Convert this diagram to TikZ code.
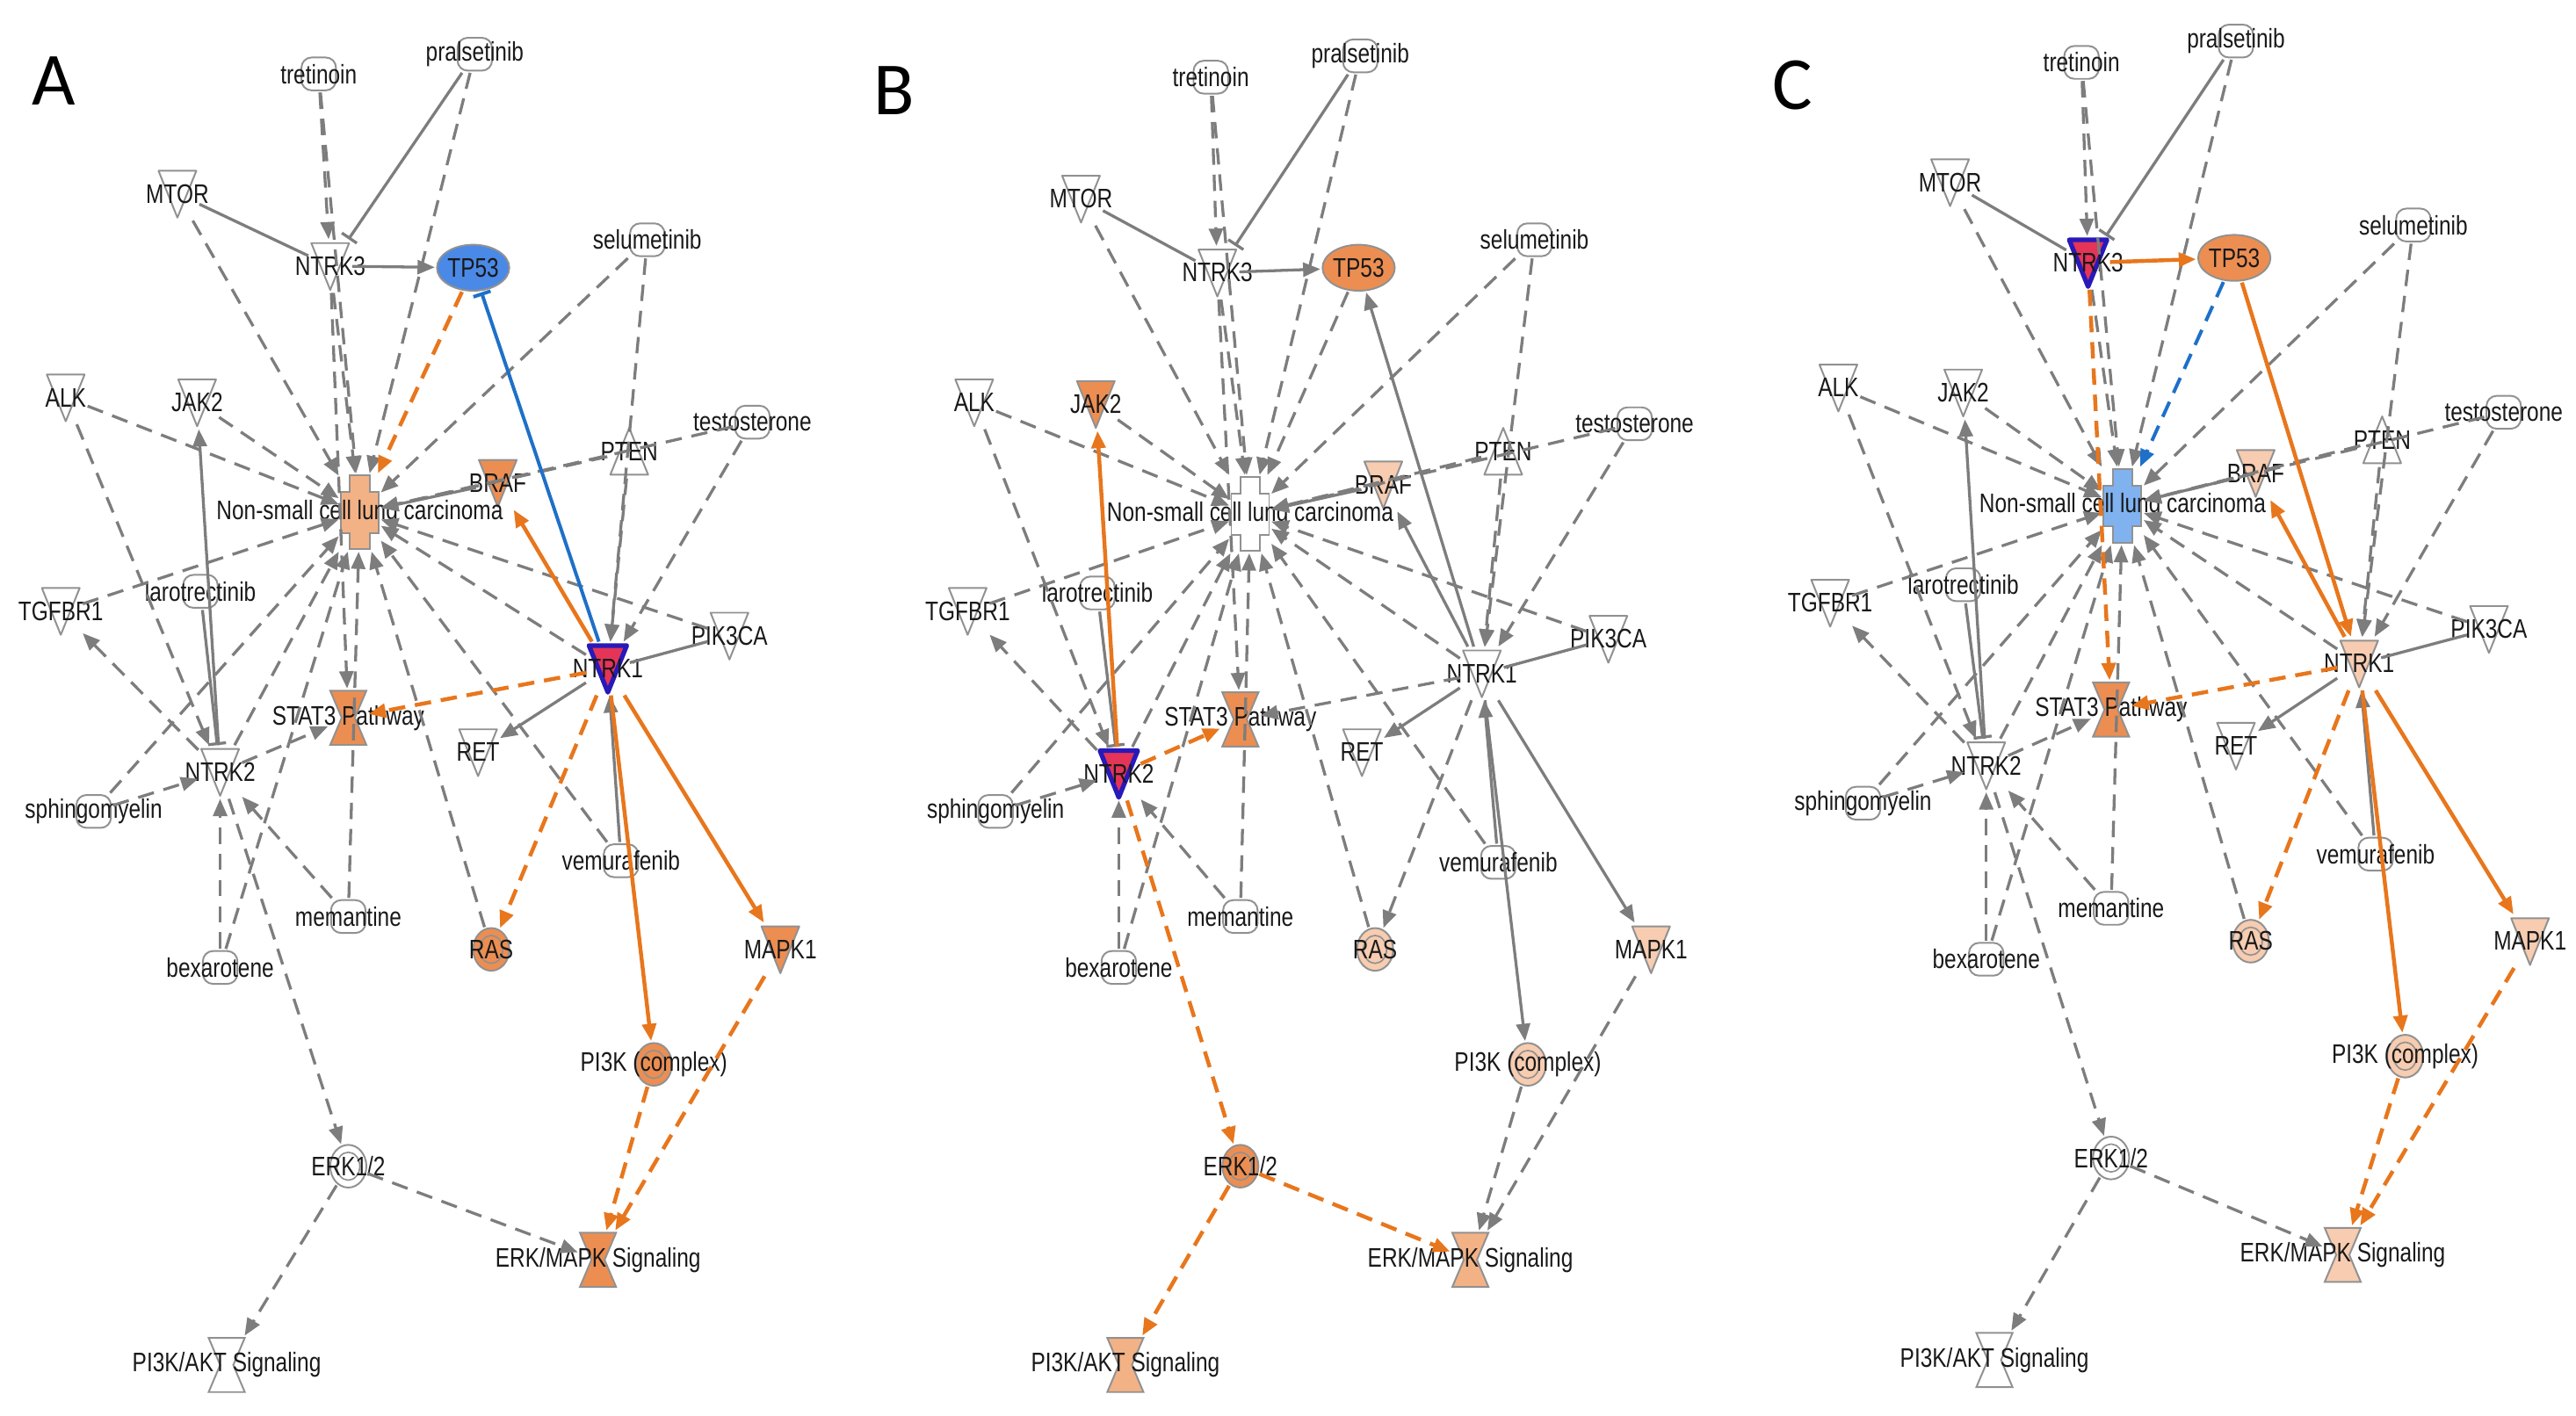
\documentclass[tikz,border=0pt]{standalone}
\usepackage{fontspec}
\usetikzlibrary{arrows.meta,shapes.geometric}
\newfontfamily\narrowfont{Liberation Sans}[FakeStretch=0.8]
\newfontfamily\panelfont{Carlito}

\definecolor{edgegray}{RGB}{125,125,125}
\definecolor{edgeorg}{RGB}{232,118,28}
\definecolor{edgeblue}{RGB}{30,112,200}
\definecolor{shapegray}{RGB}{145,145,145}
\definecolor{orgd}{RGB}{236,142,82}
\definecolor{orgm}{RGB}{243,178,133}
\definecolor{orgl}{RGB}{247,204,176}
\definecolor{tpblue}{RGB}{74,137,230}
\definecolor{disblue}{RGB}{128,178,240}
\definecolor{qred}{RGB}{228,52,88}
\definecolor{qblue}{RGB}{40,25,185}

\tikzset{
	sfill/.store in=\shfill, sdraw/.store in=\shdraw, swidth/.store in=\shwidth,
	shapebase/.style={inner sep=0pt, sfill=white, sdraw=shapegray, swidth=0.6pt},
	query/.style={sfill=qred, sdraw=qblue, swidth=1.6pt},
	lbl/.style={font=\narrowfont\fontsize{9.3pt}{10pt}\selectfont, text=black!90, inner sep=0pt},
	kin/.style={shapebase, rectangle, minimum width=0.52cm, minimum height=0.64cm,
		path picture={\filldraw[fill=\shfill, draw=\shdraw, line width=\shwidth, line join=round, shift={(path picture bounding box.center)}]
			(-0.23cm,0.28cm) -- (0.23cm,0.28cm) -- (0cm,-0.29cm) -- cycle;}},
	phos/.style={shapebase, rectangle, minimum width=0.52cm, minimum height=0.64cm,
		path picture={\filldraw[fill=\shfill, draw=\shdraw, line width=\shwidth, line join=round, shift={(path picture bounding box.center)}]
			(-0.23cm,-0.28cm) -- (0.23cm,-0.28cm) -- (0cm,0.29cm) -- cycle;}},
	chem/.style={shapebase, rectangle, minimum width=0.46cm, minimum height=0.44cm,
		path picture={\filldraw[fill=\shfill, draw=\shdraw, line width=\shwidth, rounded corners=3.5pt, shift={(path picture bounding box.center)}]
			(-0.21cm,-0.2cm) rectangle (0.21cm,0.2cm);}},
	tfac/.style={shapebase, ellipse, minimum width=0.92cm, minimum height=0.6cm,
		path picture={\filldraw[fill=\shfill, draw=\shdraw, line width=\shwidth] (path picture bounding box.center) ellipse (0.44cm and 0.28cm);}},
	cplx/.style={shapebase, ellipse, minimum width=0.48cm, minimum height=0.56cm,
		path picture={\filldraw[fill=\shfill, draw=\shdraw, line width=\shwidth] (path picture bounding box.center) ellipse (0.22cm and 0.26cm);
			\draw[draw=\shdraw, line width=0.5pt] (path picture bounding box.center) ellipse (0.14cm and 0.17cm);}},
	dis/.style={shapebase, rectangle, minimum width=0.5cm, minimum height=0.94cm,
		path picture={\filldraw[fill=\shfill, draw=\shdraw, line width=\shwidth, shift={(path picture bounding box.center)}]
			(-0.12cm,0.45cm) -- (0.12cm,0.45cm) -- (0.12cm,0.25cm) -- (0.23cm,0.25cm) -- (0.23cm,-0.25cm) -- (0.12cm,-0.25cm)
			-- (0.12cm,-0.45cm) -- (-0.12cm,-0.45cm) -- (-0.12cm,-0.25cm) -- (-0.23cm,-0.25cm) -- (-0.23cm,0.25cm) -- (-0.12cm,0.25cm) -- cycle;}},
	cpw/.style={shapebase, rectangle, minimum width=0.48cm, minimum height=0.7cm,
		path picture={\filldraw[fill=\shfill, draw=\shdraw, line width=\shwidth, shift={(path picture bounding box.center)}]
			(-0.22cm,0.33cm) -- (0.22cm,0.33cm) -- (0.08cm,0cm) -- (0.22cm,-0.33cm) -- (-0.22cm,-0.33cm) -- (-0.08cm,0cm) -- cycle;}},
	gry/.style={draw=edgegray, line width=1pt},
	orgedge/.style={draw=edgeorg, line width=1.35pt},
	bluedge/.style={draw=edgeblue, line width=1.2pt},
	dsh/.style={dash pattern=on 0.2cm off 0.12cm},
	arr/.style={-{Triangle[length=0.21cm,width=0.17cm]}},
	inh/.style={-{Bar[width=0.22cm]}},
	panel/.style={font=\panelfont\fontsize{26pt}{28pt}\selectfont, inner sep=0pt}
}

% molecules of one network, placed at the coordinates p<panel>-<name>
\newcommand{\netnodes}[1]{%
	\foreach \n/\s/\t in {tret/chem/tretinoin, prals/chem/pralsetinib, mtor/kin/MTOR, ntrk3/kin/NTRK3, tp53/tfac/TP53,
		selu/chem/selumetinib, alk/kin/ALK, jak2/kin/JAK2, testo/chem/testosterone, pten/phos/PTEN, braf/kin/BRAF,
		nsclc/dis/{Non-small cell lung carcinoma}, tgfbr1/kin/TGFBR1, laro/chem/larotrectinib, pik3ca/kin/PIK3CA,
		ntrk1/kin/NTRK1, stat3/cpw/{STAT3 Pathway}, ret/kin/RET, ntrk2/kin/NTRK2, sphingo/chem/sphingomyelin,
		vemu/chem/vemurafenib, meman/chem/memantine, ras/cplx/RAS, mapk1/kin/MAPK1, bexa/chem/bexarotene,
		pi3k/cplx/{PI3K (complex)}, erk/cplx/{ERK1/2}, erkmapk/cpw/{ERK/MAPK Signaling}, pi3kakt/cpw/{PI3K/AKT Signaling}} {
		\node[\s, c-\n/.try] (#1-\n) at (p#1-\n) {};
		\node[lbl] (#1-\n-txt) at (#1-\n) {\t};
	}
}

% links of one network
\newcommand{\netlinks}[1]{%
	\foreach \a/\b in {tret/ntrk3, tret/nsclc, prals/nsclc, mtor/nsclc, ntrk3/nsclc, selu/nsclc, selu/ntrk1, alk/nsclc,
		alk/ntrk2, jak2/nsclc, testo/nsclc, testo/ntrk1, pten/nsclc, pten/ntrk1, tgfbr1/nsclc, ntrk2/tgfbr1, pik3ca/nsclc,
		ntrk1/nsclc, ras/nsclc, ntrk2/nsclc, sphingo/ntrk2, sphingo/nsclc, bexa/ntrk2, bexa/nsclc, meman/ntrk2,
		meman/nsclc, vemu/nsclc}
		\draw[gry, dsh, arr] (#1-\a) -- (#1-\b);
	\foreach \a/\b in {braf/nsclc, ntrk1/ret, vemu/ntrk1}
		\draw[gry, arr] (#1-\a) -- (#1-\b);
	\draw[gry] (#1-mtor) -- (#1-ntrk3);
	\draw[gry] (#1-pik3ca) -- (#1-ntrk1);
	\draw[gry, inh] (#1-prals) -- (#1-ntrk3);
	\draw[gry, inh] (#1-laro) -- (#1-ntrk2);
	% coloured by the query kinase
	\foreach \a/\b in {ntrk1/braf, ntrk1/pi3k, ntrk1/mapk1}
		\draw[grpone, arr] (#1-\a) -- (#1-\b);
	\foreach \a/\b in {ntrk1/stat3, ntrk1/ras, pi3k/erkmapk, mapk1/erkmapk}
		\draw[grpone, dsh, arr] (#1-\a) -- (#1-\b);
	\draw[grptwo, arr] (#1-ntrk2) -- (#1-jak2);
	\foreach \a/\b in {ntrk2/stat3, ntrk2/erk, erk/erkmapk, erk/pi3kakt}
		\draw[grptwo, dsh, arr] (#1-\a) -- (#1-\b);
	\draw[grpthree, arr] (#1-ntrk3) -- (#1-tp53);
	\draw[grpthree, dsh, arr] (#1-ntrk3) -- (#1-stat3);
}

\begin{document}
\begin{tikzpicture}[x=0.02cm, y=-0.02cm]
	\fill[white] (0,0) rectangle (1568,862);
	\useasboundingbox (0,0) rectangle (1568,862);

	\foreach \n/\x/\y in {tret/194/45, prals/289/33, mtor/108/118, ntrk3/201/162, tp53/288/163, selu/394/146, alk/40/242,
		jak2/120/245, testo/458/257, pten/383/275, braf/303/294, nsclc/219/312, tgfbr1/37/372, laro/122/360, pik3ca/444/387,
		ntrk1/370/407, stat3/212/437, ret/291/458, ntrk2/134/470, sphingo/57/494, vemu/378/524, meman/212/558, ras/299/578,
		mapk1/475/578, bexa/134/589, pi3k/398/648, erk/212/710, erkmapk/364/767, pi3kakt/138/831}
		\coordinate (pA-\n) at (\x,\y);
	\foreach \n/\x/\y in {tret/737/47, prals/828/34, mtor/658/121, ntrk3/741/166, tp53/827/163, selu/934/146, alk/593/245,
		jak2/667/246, testo/995/258, pten/915/275, braf/842/295, nsclc/761/313, tgfbr1/589/372, laro/668/361, pik3ca/979/389,
		ntrk1/902/410, stat3/755/438, ret/829/458, ntrk2/681/471, sphingo/606/494, vemu/912/525, meman/755/558, ras/837/578,
		mapk1/1005/578, bexa/681/589, pi3k/930/648, erk/755/710, erkmapk/895/767, pi3kakt/685/831}
		\coordinate (pB-\n) at (\x,\y);
	\foreach \n/\x/\y in {tret/1267/38, prals/1361/25, mtor/1187/111, ntrk3/1271/160, tp53/1360/157, selu/1469/137,
		alk/1119/236, jak2/1195/239, testo/1524/251, pten/1450/268, braf/1373/288, nsclc/1292/308, tgfbr1/1114/367,
		laro/1195/356, pik3ca/1515/383, ntrk1/1436/404, stat3/1285/432, ret/1361/454, ntrk2/1209/466, sphingo/1134/489,
		vemu/1446/520, meman/1285/553, ras/1370/573, mapk1/1540/573, bexa/1209/584, pi3k/1464/643, erk/1285/705,
		erkmapk/1426/764, pi3kakt/1214/828}
		\coordinate (pC-\n) at (\x,\y);

	% A: NTRK1
	\node[panel] (labA) at (33,49) {A};
	\begin{scope}[c-tp53/.style={sfill=tpblue}, c-nsclc/.style={sfill=orgm}, c-braf/.style={sfill=orgd},
		c-stat3/.style={sfill=orgd}, c-ntrk1/.style={query}, c-ras/.style={sfill=orgd}, c-mapk1/.style={sfill=orgd},
		c-pi3k/.style={sfill=orgd}, c-erkmapk/.style={sfill=orgd},
		grpone/.style={orgedge}, grptwo/.style={gry}, grpthree/.style={gry}]
		\netnodes{A}
		\netlinks{A}
		\draw[orgedge, dsh, arr] (A-tp53) -- (A-nsclc);
		\draw[bluedge, inh] (A-ntrk1) -- (A-tp53);
	\end{scope}

	% B: NTRK2
	\node[panel] (labB) at (544,55) {B};
	\begin{scope}[c-tp53/.style={sfill=orgd}, c-jak2/.style={sfill=orgd}, c-braf/.style={sfill=orgl},
		c-ntrk2/.style={query}, c-stat3/.style={sfill=orgd}, c-ras/.style={sfill=orgl}, c-mapk1/.style={sfill=orgl},
		c-pi3k/.style={sfill=orgl}, c-erk/.style={sfill=orgd}, c-erkmapk/.style={sfill=orgm}, c-pi3kakt/.style={sfill=orgm},
		grpone/.style={gry}, grptwo/.style={orgedge}, grpthree/.style={gry}]
		\netnodes{B}
		\netlinks{B}
		\draw[gry, dsh, arr] (B-tp53) -- (B-nsclc);
		\draw[gry, arr] (B-ntrk1) -- (B-tp53);
	\end{scope}

	% C: NTRK3
	\node[panel] (labC) at (1091,52) {C};
	\begin{scope}[c-ntrk3/.style={query}, c-tp53/.style={sfill=orgd}, c-nsclc/.style={sfill=disblue},
		c-braf/.style={sfill=orgl}, c-ntrk1/.style={sfill=orgl}, c-stat3/.style={sfill=orgd}, c-ras/.style={sfill=orgl},
		c-mapk1/.style={sfill=orgl}, c-pi3k/.style={sfill=orgl}, c-erkmapk/.style={sfill=orgl},
		grpone/.style={orgedge}, grptwo/.style={gry}, grpthree/.style={orgedge}]
		\netnodes{C}
		\netlinks{C}
		\draw[bluedge, dsh, arr] (C-tp53) -- (C-nsclc);
		\draw[orgedge, arr] (C-tp53) -- (C-ntrk1);
	\end{scope}
\end{tikzpicture}
\end{document}
